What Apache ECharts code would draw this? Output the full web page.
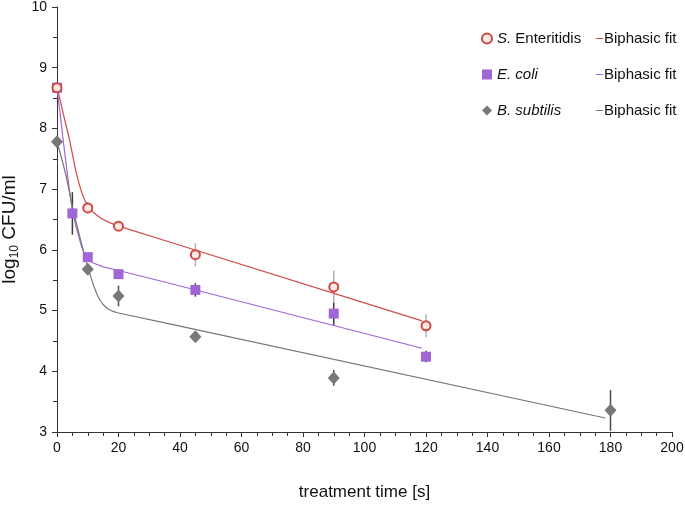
<!DOCTYPE html>
<html>
<head>
<meta charset="utf-8">
<script src="https://cdn.jsdelivr.net/npm/echarts@6/dist/echarts.min.js"></script>
<style>html,body{margin:0;padding:0;background:#fff;}#c{width:685px;height:512px;}</style>
</head>
<body>
<div id="c"></div>
<script>
// Measured points [time s, log10 CFU/ml]
const sEnteritidis = [[0, 8.67], [10, 6.69], [20, 6.39], [45, 5.92], [90, 5.39], [120, 4.75]];
const eColi = [[0, 8.67], [5, 6.60], [10, 5.88], [20, 5.60], [45, 5.34], [90, 4.95], [120, 4.24]];
const bSubtilis = [[0, 7.78], [10, 5.68], [20, 5.24], [45, 4.57], [90, 3.89], [180, 3.36]];

// Error bars [time, low, high]
const errS = [[10, 6.60, 6.79], [20, 6.34, 6.44], [45, 5.73, 6.11], [90, 5.12, 5.66], [120, 4.56, 4.94]];
const errE = [[5, 6.25, 6.95], [10, 5.82, 5.94], [20, 5.55, 5.66], [45, 5.23, 5.45], [90, 4.76, 5.13], [120, 4.15, 4.34]];
const errB = [[0, 7.72, 7.84], [20, 5.07, 5.41], [45, 4.53, 4.61], [90, 3.76, 4.02], [180, 3.02, 3.69]];

// Biphasic fit curves
const fitS = [[0, 8.68], [1, 8.47], [2, 8.25], [3, 8.04], [4, 7.83], [5, 7.58], [6, 7.33], [7, 7.12], [8, 6.95], [9, 6.82],
              [10, 6.73], [11, 6.66], [12, 6.61], [13.5, 6.55], [15, 6.50], [17.5, 6.44], [20, 6.39], [36.6, 6.13], [118.7, 4.83]];
const fitE = [[0, 8.67], [1, 8.25], [2, 7.81], [3, 7.40], [4, 7.00], [5, 6.66], [6, 6.42], [7, 6.23], [8, 6.05], [9, 5.93],
              [10, 5.85], [11, 5.81], [12, 5.78], [15, 5.72], [20, 5.66], [36.6, 5.45], [118.7, 4.38]];
const fitB = [[0, 7.78], [1, 7.60], [2, 7.41], [3, 7.21], [4, 6.96], [5, 6.70], [6, 6.50], [7, 6.30], [8, 6.10], [9, 5.90],
              [10, 5.72], [11, 5.55], [12, 5.40], [13, 5.27], [14, 5.17], [15, 5.10], [16.5, 5.03], [18, 4.99], [20, 4.96],
              [36.6, 4.78], [178.3, 3.23]];

const RED = '#cf4a43', PURPLE = '#a066d6', GRAY = '#777777';
const FONT = 'Liberation Sans, Arial, sans-serif';

function errSeries(data, color) {
  return {
    type: 'custom', data: data, z: 1, silent: true,
    renderItem: function (params, api) {
      const x = api.value(0);
      const p1 = api.coord([x, api.value(1)]);
      const p2 = api.coord([x, api.value(2)]);
      return { type: 'line', shape: { x1: p1[0], y1: p1[1], x2: p2[0], y2: p2[1] },
               style: { stroke: color, lineWidth: 1.5 } };
    }
  };
}

const chart = echarts.init(document.getElementById('c'), null, { renderer: 'canvas' });
chart.setOption({
  backgroundColor: '#fff',
  animation: false,
  textStyle: { fontFamily: FONT },
  grid: { left: 57, right: 13, top: 7, bottom: 80, containLabel: false, outerBoundsMode: 'none' },
  xAxis: {
    type: 'value', min: 0, max: 200, interval: 20,
    name: 'treatment time [s]', nameLocation: 'middle', nameGap: 52,
    nameTextStyle: { fontSize: 17, color: '#111', fontFamily: FONT },
    axisLine: { lineStyle: { color: '#333', width: 1 } },
    axisTick: { show: true, length: 5, inside: false, lineStyle: { color: '#333' } },
    minorTick: { show: true, splitNumber: 4, length: 4, lineStyle: { color: '#333' } },
    axisLabel: { fontSize: 14, color: '#111', margin: 9, fontFamily: FONT },
    splitLine: { show: false }
  },
  yAxis: {
    type: 'value', min: 3, max: 10, interval: 1,
    name: '{a|log}{s|10}{a| CFU/ml}', nameLocation: 'middle', nameGap: 33, nameRotate: 90,
    nameTextStyle: { fontFamily: FONT, padding: [0, 20, 0, 0], rich: {
      a: { fontSize: 19, color: '#111', fontFamily: FONT },
      s: { fontSize: 12, color: '#111', fontFamily: FONT, verticalAlign: 'bottom', padding: [10, 0, 0, 0] }
    } },
    axisLine: { show: true, lineStyle: { color: '#333', width: 1 } },
    axisTick: { show: true, length: 5, lineStyle: { color: '#333' } },
    minorTick: { show: true, splitNumber: 2, length: 4, lineStyle: { color: '#333' } },
    axisLabel: { fontSize: 14, color: '#111', margin: 10, fontFamily: FONT },
    splitLine: { show: false }
  },
  legend: [
    {
      orient: 'vertical', left: 476, top: 26, itemGap: 21, itemWidth: 10, itemHeight: 10,
      data: ['S. Enteritidis', 'E. coli', 'B. subtilis'],
      textStyle: { fontSize: 15, color: '#111', fontFamily: FONT,
        rich: { i: { fontStyle: 'italic', fontSize: 15, color: '#111', fontFamily: FONT },
                n: { fontSize: 15, color: '#111', fontFamily: FONT } } },
      formatter: function (n) {
        if (n === 'S. Enteritidis') return '{i|S.}{n| Enteritidis}';
        return '{i|' + n + '}';
      }
    },
    {
      orient: 'vertical', left: 591, top: 26, itemGap: 21, itemWidth: 7, itemHeight: 10,
      icon: 'path://M0,4.5L7,4.5L7,5.5L0,5.5Z',
      data: ['fitS', 'fitE', 'fitB'],
      textStyle: { fontSize: 15, color: '#111', fontFamily: FONT, padding: [0, 0, 0, -4] },
      formatter: function () { return 'Biphasic fit'; }
    }
  ],
  series: [
    { name: 'fitS', type: 'line', data: fitS, symbol: 'none', smooth: false,
      lineStyle: { color: RED, width: 1.2 }, itemStyle: { color: RED }, z: 2 },
    { name: 'fitE', type: 'line', data: fitE, symbol: 'none', smooth: false,
      lineStyle: { color: PURPLE, width: 1.2 }, itemStyle: { color: PURPLE }, z: 2 },
    { name: 'fitB', type: 'line', data: fitB, symbol: 'none', smooth: false,
      lineStyle: { color: GRAY, width: 1.2 }, itemStyle: { color: GRAY }, z: 2 },
    errSeries(errS, '#b0b0b0'),
    errSeries(errE, '#3a3a3a'),
    errSeries(errB, '#4a4a4a'),
    { name: 'B. subtilis', type: 'scatter', data: bSubtilis, symbol: 'diamond', symbolSize: [12, 13],
      itemStyle: { color: GRAY, opacity: 1 }, z: 3 },
    { name: 'E. coli', type: 'scatter', data: eColi, symbol: 'rect', symbolSize: 10,
      itemStyle: { color: PURPLE, opacity: 1 }, z: 4 },
    { name: 'S. Enteritidis', type: 'scatter', data: sEnteritidis, symbol: 'circle', symbolSize: 9,
      itemStyle: { color: '#fbe9e5', borderColor: RED, borderWidth: 2, opacity: 1 }, z: 5 }
  ]
});
</script>
</body>
</html>
